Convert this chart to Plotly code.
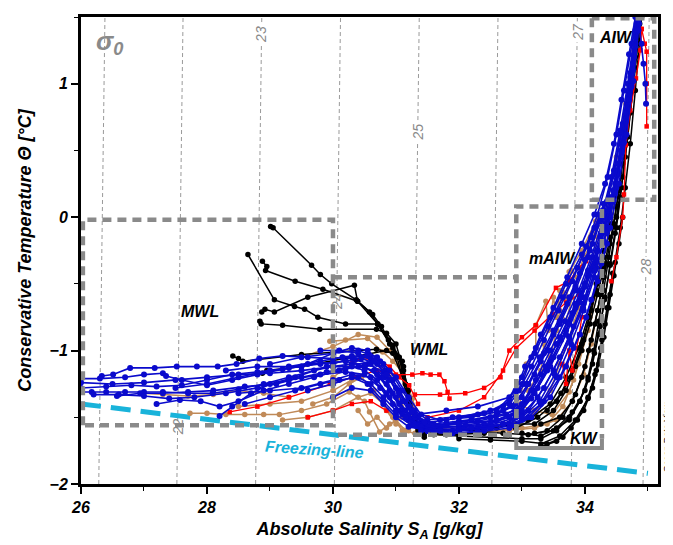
import plotly.graph_objects as go

# ---------------- data ----------------
# isopycnal levels (sigma0) and their salinity at T = 1.5 degC
sigma_levels = [21, 22, 23, 24, 25, 26, 27, 28]
sigma_S_top = [26.38, 27.62, 28.87, 30.12, 31.37, 32.62, 33.88, 35.02]
sigma_tilt = 0.028  # dS/dT along an isopycnal

freezing_S = [26.0, 35.0]
freezing_T = [-1.40, -1.92]

black_profiles = [
    [(29.01,-0.07),(29.05,-0.08),(29.66,-0.36),(29.80,-0.43),(29.98,-0.50),(30.37,-0.62),(30.63,-0.73),(30.77,-0.82),(30.94,-0.96),(31.10,-1.08),(31.21,-1.36),(31.32,-1.51),(31.42,-1.61),(31.8,-1.63),(32.4,-1.62)],
    [(28.65,-0.28),(29.07,-0.62),(29.39,-0.67),(29.55,-0.69),(29.76,-0.75),(30.20,-0.80),(30.71,-0.80),(30.9,-0.95),(31.05,-1.05),(31.15,-1.25),(31.25,-1.45),(31.35,-1.58),(31.6,-1.62)],
    [(28.88,-0.33),(28.95,-0.37),(28.93,-0.40),(29.40,-0.48),(29.84,-0.54),(30.39,-0.63),(30.71,-0.80),(30.95,-0.98),(31.12,-1.12),(31.2,-1.35),(31.3,-1.55),(31.45,-1.63)],
    [(28.87,-0.71),(28.92,-0.69),(29.07,-0.71),(29.6,-0.60),(30.34,-0.51),(30.39,-0.63),(30.58,-0.71),(30.71,-0.80),(30.88,-0.92),(31.02,-1.05),(31.15,-1.3),(31.28,-1.52),(31.4,-1.6)],
    [(28.84,-0.78),(28.86,-0.80),(29.20,-0.81),(29.79,-0.84),(30.69,-0.84),(30.85,-0.87),(31.0,-0.95),(31.12,-1.15),(31.22,-1.40),(31.35,-1.6)],
    [(28.41,-1.04),(28.5,-1.06),(28.57,-1.08),(29.5,-1.03),(30.69,-0.99),(30.95,-1.02),(31.15,-1.25),(31.3,-1.5),(31.45,-1.65)],
    [(28.88,-1.17),(28.95,-1.15),(29.5,-1.12),(30.2,-1.06),(30.85,-1.0),(31.05,-1.05),(31.2,-1.3),(31.3,-1.55)],
    [(31.3,-1.55),(31.6,-1.63),(32.0,-1.64),(32.5,-1.65),(33.0,-1.66),(33.3,-1.66),(33.55,-1.6),(33.75,-1.5),(33.92,-1.38),(34.05,-1.22),(34.15,-1.02),(34.24,-0.82),(34.32,-0.6),(34.4,-0.36),(34.48,-0.12),(34.56,0.15),(34.64,0.45),(34.72,0.78),(34.8,1.12),(34.87,1.45)],
    [(32.2,-1.6),(32.7,-1.62),(33.1,-1.63),(33.4,-1.6),(33.65,-1.5),(33.85,-1.33),(34.0,-1.12),(34.1,-0.92),(34.2,-0.7),(34.3,-0.45),(34.4,-0.2),(34.5,0.08),(34.6,0.4),(34.7,0.8),(34.8,1.2),(34.86,1.48)],
    [(32.8,-1.55),(33.2,-1.55),(33.5,-1.45),(33.7,-1.3),(33.85,-1.12),(33.98,-0.92),(34.1,-0.7),(34.2,-0.5),(34.3,-0.3),(34.42,-0.05),(34.52,0.25)],
    [(33.0,-1.62),(33.3,-1.64),(33.55,-1.58),(33.8,-1.46),(34.0,-1.3),(34.12,-1.1),(34.22,-0.88),(34.31,-0.62),(34.4,-0.35),(34.5,-0.08),(34.58,0.22)],
    [(31.5,-1.58),(32.0,-1.6),(32.6,-1.58),(33.1,-1.52),(33.45,-1.4),(33.7,-1.2),(33.9,-0.98),(34.05,-0.75),(34.18,-0.5),(34.3,-0.25)],
    [(33.3,-1.55),(33.6,-1.5),(33.8,-1.38),(33.95,-1.2),(34.06,-1.0),(34.16,-0.8),(34.25,-0.58),(34.34,-0.35)],
    [(33.3,-1.7),(33.6,-1.64),(33.85,-1.52),(34.05,-1.36),(34.18,-1.15),(34.27,-0.92),(34.35,-0.68),(34.44,-0.42)],
    [(34.5,0.0),(34.6,0.3),(34.68,0.6),(34.76,0.95),(34.83,1.3),(34.88,1.5)],
    [(32.0,-1.66),(32.5,-1.67),(33.0,-1.68),(33.4,-1.7),(33.65,-1.65),(33.88,-1.52),(34.05,-1.35),(34.16,-1.18),(34.25,-0.98),(34.32,-0.8),(34.4,-0.58),(34.48,-0.34),(34.56,-0.08),(34.64,0.22),(34.72,0.55),(34.8,0.95),(34.86,1.3),(34.9,1.5)],
    [(33.2,-1.62),(33.5,-1.6),(33.75,-1.52),(33.92,-1.38),(34.05,-1.2),(34.14,-1.0),(34.22,-0.78),(34.3,-0.55),(34.38,-0.3),(34.46,-0.05),(34.54,0.2)],
    [(33.3,-1.72),(33.55,-1.68),(33.78,-1.58),(33.98,-1.45),(34.12,-1.28),(34.22,-1.1),(34.3,-0.9),(34.38,-0.68),(34.46,-0.44),(34.54,-0.2),(34.6,0.0)],
    [(32.9,-1.58),(33.25,-1.5),(33.55,-1.38),(33.78,-1.2),(33.95,-1.0),(34.08,-0.8),(34.2,-0.58),(34.3,-0.38),(34.4,-0.15)],
    [(33.4,-1.45),(33.62,-1.32),(33.8,-1.15),(33.95,-0.95),(34.07,-0.75),(34.18,-0.55),(34.28,-0.35)],
]

blue_profiles = [
    [(26.0,-1.31),(26.17,-1.31),(26.4,-1.31),(26.7,-1.31),(27.0,-1.31),(27.3,-1.31),(27.7,-1.32),(28.09,-1.32),(28.5,-1.29),(28.9,-1.25),(29.3,-1.2),(29.7,-1.15),(30.0,-1.12),(30.3,-1.1),(30.55,-1.1),(30.8,-1.16),(31.0,-1.28),(31.2,-1.42),(31.4,-1.53),(31.6,-1.57),(32.0,-1.57),(32.4,-1.55),(32.8,-1.5),(33.05,-1.38),(33.3,-1.18),(33.55,-0.95),(33.8,-0.72),(34.0,-0.5),(34.2,-0.25),(34.38,0.02),(34.52,0.35),(34.65,0.72),(34.76,1.1),(34.85,1.48)],
    [(26.33,-1.19),(26.51,-1.18),(26.78,-1.13),(27.17,-1.13),(27.52,-1.12),(27.84,-1.12),(28.17,-1.12),(28.47,-1.10),(28.83,-1.06),(29.2,-1.04),(29.6,-1.05),(30.0,-1.06),(30.3,-1.04),(30.6,-1.06),(30.85,-1.15),(31.05,-1.3),(31.25,-1.45),(31.45,-1.55),(31.7,-1.58),(32.1,-1.56),(32.6,-1.52),(32.95,-1.45),(33.2,-1.3),(33.45,-1.08),(33.7,-0.85),(33.95,-0.6),(34.15,-0.35),(34.32,-0.08),(34.48,0.25),(34.62,0.62),(34.74,1.0),(34.83,1.4)],
    [(26.0,-1.21),(26.3,-1.21),(26.7,-1.2),(27.0,-1.18),(27.30,-1.17),(27.35,-1.19),(27.6,-1.22),(28.0,-1.26),(28.4,-1.22),(28.8,-1.18),(29.3,-1.13),(29.8,-1.1),(30.2,-1.08),(30.5,-1.12),(30.75,-1.2),(30.95,-1.32),(31.15,-1.45),(31.35,-1.55),(31.6,-1.6),(32.0,-1.59),(32.5,-1.56),(32.9,-1.5),(33.15,-1.36),(33.4,-1.15),(33.62,-0.92),(33.85,-0.68),(34.05,-0.44),(34.25,-0.15),(34.42,0.15),(34.58,0.5),(34.7,0.9),(34.8,1.3),(34.86,1.5)],
    [(26.57,-1.34),(26.94,-1.32),(27.3,-1.32),(27.7,-1.31),(28.1,-1.3),(28.6,-1.27),(29.1,-1.25),(29.5,-1.2),(29.9,-1.16),(30.2,-1.13),(30.5,-1.12),(30.7,-1.18),(30.9,-1.3),(31.1,-1.45),(31.3,-1.56),(31.5,-1.6),(31.9,-1.6),(32.3,-1.58),(32.7,-1.55),(33.0,-1.48),(33.25,-1.35),(33.5,-1.15),(33.75,-0.9),(33.98,-0.65),(34.18,-0.38),(34.35,-0.1),(34.5,0.22),(34.63,0.6),(34.75,1.02),(34.84,1.42)],
    [(27.2,-1.40),(27.57,-1.37),(27.9,-1.38),(28.2,-1.42),(28.5,-1.38),(28.9,-1.3),(29.3,-1.25),(29.7,-1.2),(30.1,-1.15),(30.4,-1.12),(30.65,-1.15),(30.85,-1.25),(31.05,-1.4),(31.25,-1.52),(31.45,-1.58),(31.8,-1.55),(32.2,-1.52),(32.6,-1.48),(32.9,-1.4),(33.1,-1.25),(33.3,-1.08),(33.5,-0.88),(33.72,-0.65),(33.92,-0.42),(34.12,-0.2),(34.3,0.05),(34.46,0.35),(34.6,0.7),(34.72,1.08),(34.82,1.45)],
    [(28.2,-1.49),(28.4,-1.42),(28.7,-1.32),(29.0,-1.25),(29.4,-1.2),(29.9,-1.12),(30.3,-1.05),(30.55,-1.03),(30.8,-1.1),(31.0,-1.2),(31.2,-1.35),(31.4,-1.48),(31.7,-1.52),(32.2,-1.5),(32.7,-1.45),(33.0,-1.35),(33.2,-1.18),(33.4,-1.0),(33.6,-0.8),(33.85,-0.55),(34.05,-0.3),(34.25,-0.02),(34.42,0.3),(34.56,0.65),(34.68,1.0),(34.8,1.4)],
    [(27.5,-1.28),(28.0,-1.25),(28.5,-1.2),(29.0,-1.15),(29.5,-1.12),(30.0,-1.02),(30.3,-0.98),(30.55,-1.0),(30.75,-1.08),(30.95,-1.22),(31.15,-1.38),(31.35,-1.5),(31.6,-1.55),(32.0,-1.53),(32.5,-1.5),(32.85,-1.42),(33.1,-1.25),(33.35,-1.02),(33.6,-0.78),(33.85,-0.52),(34.08,-0.25),(34.28,0.05)],
    [(28.5,-1.32),(29.0,-1.3),(29.5,-1.28),(30.0,-1.22),(30.3,-1.18),(30.6,-1.2),(30.85,-1.32),(31.05,-1.45),(31.3,-1.55),(31.6,-1.6),(32.0,-1.6),(32.4,-1.58),(32.8,-1.55),(33.1,-1.45),(33.35,-1.28),(33.6,-1.05),(33.82,-0.82),(34.0,-0.6),(34.18,-0.32),(34.36,-0.02),(34.52,0.32)],
    [(29.0,-1.1),(29.5,-1.05),(30.0,-1.02),(30.4,-1.0),(30.7,-1.05),(30.9,-1.15),(31.1,-1.3),(31.3,-1.45),(31.5,-1.52),(31.9,-1.5),(32.4,-1.47),(32.8,-1.4),(33.05,-1.25),(33.28,-1.05),(33.5,-0.85),(33.75,-0.6),(34.0,-0.32),(34.22,-0.05)],
    [(26.0,-1.28),(26.4,-1.27),(26.8,-1.26),(27.2,-1.27),(27.6,-1.26),(28.0,-1.22),(28.4,-1.18),(28.8,-1.16),(29.2,-1.14),(29.6,-1.1),(30.0,-1.09),(30.35,-1.07),(30.6,-1.1),(30.82,-1.2),(31.0,-1.35),(31.2,-1.48),(31.45,-1.56),(31.8,-1.56),(32.3,-1.53),(32.75,-1.48),(33.0,-1.4),(33.22,-1.22),(33.45,-1.0),(33.68,-0.78),(33.9,-0.55),(34.1,-0.3),(34.3,0.0),(34.46,0.32),(34.6,0.68),(34.72,1.05),(34.82,1.42)],
    [(28.3,-1.15),(28.8,-1.12),(29.3,-1.12),(29.8,-1.08),(30.15,-1.05),(30.45,-1.06),(30.7,-1.1),(30.9,-1.22),(31.1,-1.38),(31.3,-1.5),(31.55,-1.56),(32.0,-1.54),(32.5,-1.5),(32.9,-1.45),(33.15,-1.3),(33.38,-1.12),(33.6,-0.9),(33.85,-0.65),(34.05,-0.4),(34.25,-0.12),(34.4,0.15)],
    [(29.6,-1.3),(30.0,-1.25),(30.3,-1.2),(30.55,-1.25),(30.8,-1.38),(31.0,-1.48),(31.25,-1.56),(31.5,-1.6),(31.9,-1.62),(32.4,-1.6),(32.85,-1.56),(33.1,-1.5),(33.35,-1.38),(33.6,-1.2),(33.82,-0.98),(34.02,-0.75),(34.2,-0.48),(34.35,-0.2)],
    [(31.3,-1.48),(31.8,-1.45),(32.3,-1.42),(32.8,-1.35),(33.0,-1.2),(33.2,-1.02),(33.42,-0.82),(33.65,-0.6),(33.88,-0.38),(34.1,-0.15),(34.3,0.1)],
    [(32.6,-1.45),(32.9,-1.3),(33.05,-1.12),(33.22,-0.98),(33.45,-0.75),(33.7,-0.5),(33.95,-0.28),(34.15,-0.08),(34.35,0.12)],
    [(34.86,1.45),(34.9,1.3),(34.93,1.15),(34.96,1.0),(34.97,0.85)],
    [(34.4,0.0),(34.5,0.25),(34.6,0.55),(34.7,0.9),(34.78,1.2),(34.84,1.48)],
    [(26.0,-1.24),(26.5,-1.25),(27.0,-1.24),(27.5,-1.22),(28.0,-1.2),(28.5,-1.18),(29.0,-1.17),(29.5,-1.15),(30.0,-1.12),(30.3,-1.12),(30.5,-1.15),(30.7,-1.22),(30.9,-1.35),(31.1,-1.48),(31.3,-1.56),(31.6,-1.58),(32.0,-1.58),(32.5,-1.55),(32.9,-1.48),(33.2,-1.32),(33.45,-1.12),(33.7,-0.88),(33.92,-0.64),(34.12,-0.38),(34.3,-0.1),(34.45,0.2),(34.58,0.55),(34.7,0.95),(34.8,1.35)],
    [(28.6,-1.4),(29.0,-1.35),(29.4,-1.3),(29.8,-1.25),(30.1,-1.22),(30.4,-1.2),(30.6,-1.25),(30.8,-1.35),(31.0,-1.45),(31.2,-1.52),(31.5,-1.57),(32.0,-1.55),(32.6,-1.52),(33.0,-1.45),(33.25,-1.28),(33.5,-1.05),(33.75,-0.8),(34.0,-0.52),(34.2,-0.25),(34.38,0.05),(34.52,0.4),(34.65,0.78),(34.76,1.15),(34.85,1.5)],
    [(29.8,-1.0),(30.1,-1.0),(30.4,-1.02),(30.65,-1.08),(30.85,-1.18),(31.05,-1.32),(31.25,-1.46),(31.45,-1.54),(31.8,-1.52),(32.3,-1.48),(32.7,-1.42),(32.95,-1.3),(33.15,-1.12),(33.35,-0.92),(33.58,-0.7),(33.8,-0.48),(34.02,-0.22),(34.2,0.02),(34.36,0.3),(34.5,0.62),(34.62,0.95),(34.74,1.3),(34.82,1.5)],
    [(30.0,-1.35),(30.3,-1.28),(30.6,-1.3),(30.8,-1.4),(31.0,-1.5),(31.2,-1.57),(31.5,-1.6),(32.0,-1.6),(32.5,-1.58),(33.0,-1.52),(33.3,-1.4),(33.55,-1.2),(33.78,-0.95),(33.98,-0.7),(34.15,-0.45),(34.3,-0.18),(34.45,0.12),(34.58,0.48),(34.7,0.88),(34.8,1.28),(34.86,1.5)],
    [(26.2,-1.33),(26.6,-1.33),(27.0,-1.34),(27.4,-1.36),(27.8,-1.35),(28.3,-1.32),(28.8,-1.28),(29.3,-1.22),(29.8,-1.18),(30.2,-1.16),(30.5,-1.18),(30.75,-1.28),(30.95,-1.4),(31.15,-1.5),(31.4,-1.57),(31.7,-1.6),(32.2,-1.58),(32.7,-1.55),(33.0,-1.5),(33.28,-1.38),(33.52,-1.18),(33.76,-0.92),(33.97,-0.68),(34.16,-0.4),(34.34,-0.12),(34.48,0.18),(34.62,0.56),(34.74,0.98),(34.83,1.4)],
    [(32.0,-1.5),(32.5,-1.45),(32.8,-1.38),(33.0,-1.25),(33.15,-1.05),(33.3,-0.88),(33.5,-0.68),(33.72,-0.45),(33.95,-0.2),(34.15,0.02),(34.32,0.25),(34.46,0.55),(34.58,0.88),(34.7,1.22),(34.8,1.5)],
    [(31.4,-1.6),(31.8,-1.62),(32.3,-1.61),(32.8,-1.58),(33.15,-1.5),(33.45,-1.35),(33.7,-1.12),(33.92,-0.88),(34.1,-0.62),(34.26,-0.35),(34.4,-0.08),(34.54,0.25),(34.66,0.62),(34.77,1.02),(34.85,1.4)],
]

brown_profiles = [
    [(29.95,-0.93),(30.2,-0.92),(30.55,-0.91),(30.79,-1.01),(30.95,-1.08),(31.10,-1.16),(31.26,-1.36),(31.35,-1.5),(31.5,-1.58),(32.0,-1.58),(32.5,-1.57),(32.9,-1.55),(33.2,-1.48),(33.45,-1.3),(33.6,-1.1),(33.75,-0.9),(33.9,-0.68),(34.05,-0.42),(34.2,-0.15),(34.35,0.1),(34.5,0.45),(34.65,0.85),(34.78,1.25),(34.88,1.5)],
    [(27.73,-1.47),(28.0,-1.47),(28.3,-1.48),(28.6,-1.48),(28.9,-1.48),(29.15,-1.48),(29.5,-1.45),(29.9,-1.4),(30.26,-1.31),(30.5,-1.38),(30.58,-1.46),(30.74,-1.61),(30.9,-1.55),(31.1,-1.5),(31.3,-1.56),(31.6,-1.6)],
    [(29.68,-1.40),(30.0,-1.35),(30.26,-1.25),(30.45,-1.2),(30.65,-1.3),(30.85,-1.45),(31.0,-1.55),(31.2,-1.6)],
    [(26.98,-1.32),(27.3,-1.33),(27.7,-1.34),(28.1,-1.33),(28.5,-1.3),(28.9,-1.32),(29.3,-1.35)],
    [(32.96,-1.41),(33.07,-1.10),(33.22,-0.98),(33.22,-0.81),(33.38,-0.63),(33.42,-0.85),(33.5,-0.6),(33.55,-0.75),(33.64,-0.56),(33.75,-0.41),(33.95,-0.25),(34.17,-0.03),(34.22,0.02)],
    [(32.96,-1.41),(33.2,-1.45),(33.48,-1.48),(33.75,-1.31),(33.9,-1.1),(34.05,-0.85),(34.15,-0.6),(34.25,-0.35),(34.35,-0.1)],
    [(29.5,-1.05),(30.0,-0.97),(30.4,-0.88),(30.7,-0.9),(30.9,-1.0),(31.05,-1.1),(31.2,-1.3),(31.3,-1.45)],
    [(29.2,-1.52),(29.6,-1.5),(30.0,-1.45),(30.4,-1.35),(30.6,-1.32),(30.8,-1.4),(30.95,-1.5),(31.1,-1.6),(31.3,-1.62)],
    [(32.5,-1.6),(33.0,-1.58),(33.4,-1.55),(33.65,-1.42),(33.82,-1.22),(33.95,-1.0),(34.08,-0.75),(34.2,-0.5)],
    [(33.1,-1.3),(33.3,-1.15),(33.35,-0.95),(33.45,-1.05),(33.55,-0.85),(33.6,-0.7),(33.7,-0.78),(33.8,-0.6),(33.9,-0.45)],
    [(30.0,-1.2),(30.3,-1.1),(30.5,-1.05),(30.7,-1.08),(30.9,-1.2),(31.05,-1.35),(31.2,-1.5),(31.35,-1.6),(31.7,-1.62),(32.3,-1.62),(32.8,-1.6),(33.2,-1.58),(33.55,-1.52),(33.8,-1.38),(33.98,-1.18),(34.1,-0.95),(34.2,-0.7),(34.3,-0.45)],
    [(30.4,-1.45),(30.55,-1.55),(30.7,-1.5),(30.85,-1.58),(31.0,-1.52),(31.15,-1.6)],
    [(28.5,-1.42),(29.0,-1.4),(29.5,-1.38),(30.0,-1.3),(30.3,-1.22)],
    [(33.55,-0.75),(33.6,-0.55),(33.7,-0.62),(33.78,-0.4),(33.88,-0.45),(33.98,-0.3),(34.1,-0.2),(34.22,0.0)],
]

red_profiles = [
    [(30.3,-1.2),(30.7,-1.15),(31.0,-1.18),(31.26,-1.18),(31.42,-1.17),(31.55,-1.18),(31.69,-1.18),(31.77,-1.23),(31.82,-1.31),(31.85,-1.36)],
    [(31.3,-1.33),(31.7,-1.33),(32.1,-1.32),(32.4,-1.28),(32.66,-1.2),(32.8,-1.0),(33.0,-0.9),(33.22,-0.81),(33.54,-0.53),(33.75,-0.48),(33.9,-0.38),(34.02,-0.33)],
    [(31.5,-1.5),(32.0,-1.45),(32.4,-1.35),(32.7,-1.15),(32.91,-0.98),(33.2,-0.85),(33.48,-0.73),(33.7,-0.64),(33.91,-0.58)],
    [(28.36,-1.46),(28.8,-1.42),(29.3,-1.35),(29.95,-1.25),(30.3,-1.2)],
    [(29.6,-1.5),(30.0,-1.45),(30.3,-1.4),(30.6,-1.38),(30.85,-1.45)],
    [(33.64,-1.10),(33.70,-1.25),(33.75,-1.0),(33.8,-1.15),(33.91,-0.88),(33.95,-0.75)],
    [(34.42,-0.48),(34.5,-0.3),(34.6,0.0),(34.62,0.17),(34.65,0.54),(34.72,0.8),(34.81,1.04),(34.88,1.25),(34.9,1.41)],
    [(34.9,1.41),(34.95,1.3),(34.98,1.24),(34.98,1.0),(34.98,0.68)],
    [(30.31,-1.07),(30.69,-1.06),(30.9,-1.12),(31.05,-1.2),(31.21,-1.26),(31.35,-1.4)],
]

# water-mass boxes (S, T corners)
box_MWL = [(26.03, -1.56), (26.03, -0.02), (30.0, -0.02), (30.0, -1.56), (26.03, -1.56)]
box_WML = [(30.0, -0.45), (32.91, -0.45), (32.91, -1.63), (30.0, -1.63)]
box_mAIW = [(32.91, -1.62), (32.91, 0.08), (34.27, 0.08), (34.27, -1.66)]
box_KW_bottom = [(32.91, -1.66), (32.91, -1.73), (34.27, -1.73), (34.27, -1.66)]
box_AIW = [(34.11, 1.49), (34.11, 0.13), (35.10, 0.13), (35.10, 1.49), (34.11, 1.49)]

region_labels = [("MWL", 27.89, -0.71), ("WML", 31.53, -0.99), ("mAIW", 33.48, -0.31),
                 ("KW", 33.99, -1.66), ("AIW", 34.49, 1.35)]
sigma_label_T = {22: -1.57, 23: 1.37, 24: -0.63, 25: 0.64, 27: 1.39, 28: -0.37}

# ---------------- figure ----------------
GRAY = "#8a8a8a"
FONT = "Liberation Sans, Arial, sans-serif"
fig = go.Figure()

for lev, s0 in zip(sigma_levels, sigma_S_top):
    T = [-2.0, 1.5]
    S = [s0 + sigma_tilt * (t - 1.5) for t in T]
    fig.add_trace(go.Scatter(x=S, y=T, mode="lines",
                             line=dict(color="#9a9a9a", width=1, dash="4px,3px"),
                             hoverinfo="skip"))

fig.add_trace(go.Scatter(x=freezing_S, y=freezing_T, mode="lines",
                         line=dict(color="#19B3DA", width=5, dash="20px,10px"),
                         hoverinfo="skip"))

def add_profiles(profiles, color, msize, lw, symbol="circle"):
    for p in profiles:
        fig.add_trace(go.Scatter(x=[a for a, b in p], y=[b for a, b in p],
                                 mode="lines+markers",
                                 line=dict(color=color, width=lw),
                                 marker=dict(color=color, size=msize, symbol=symbol)))

add_profiles(brown_profiles, "#C08A58", 5.5, 1.5)
add_profiles(black_profiles, "#000000", 5.5, 1.5)
add_profiles(red_profiles, "#FF0000", 4.5, 1.3, "square")
add_profiles(blue_profiles, "#0A0ACC", 6, 1.6)

for box in [box_MWL, box_WML, box_mAIW, box_AIW]:
    fig.add_trace(go.Scatter(x=[a for a, b in box], y=[b for a, b in box], mode="lines",
                             line=dict(color=GRAY, width=4.5, dash="9px,6px"),
                             hoverinfo="skip"))
fig.add_trace(go.Scatter(x=[a for a, b in box_KW_bottom], y=[b for a, b in box_KW_bottom],
                         mode="lines", line=dict(color=GRAY, width=4), hoverinfo="skip"))

annotations = []
for txt, s, t in region_labels:
    annotations.append(dict(x=s, y=t, text=txt, showarrow=False,
                            font=dict(family=FONT, size=16, color="black", weight="bold", style="italic")))
annotations.append(dict(x=29.71, y=-1.74, text="Freezing-line", showarrow=False, textangle=4,
                        font=dict(family=FONT, size=16, color="#19B3DA", weight="bold", style="italic")))
for lev, s0 in zip(sigma_levels, sigma_S_top):
    t = sigma_label_T.get(lev)
    if t is None:
        continue
    s = s0 + sigma_tilt * (t - 1.5)
    ann = dict(x=s, y=t, text=str(lev), showarrow=False, textangle=-90,
               font=dict(family=FONT, size=14, color="#8a8a8a", style="italic"))
    if lev not in (22, 24):
        ann["bgcolor"] = "white"
    annotations.append(ann)
annotations.append(dict(x=26.45, y=1.31, text="σ<sub>0</sub>", showarrow=False,
                        font=dict(family=FONT, size=26, color="#8a8a8a", weight="bold", style="italic")))
annotations.append(dict(xref="paper", yref="paper", x=1.0, xanchor="center", xshift=9, y=0.1,
                        yanchor="middle", text="Ocean Data View",
                        showarrow=False, textangle=-90,
                        font=dict(family=FONT, size=9, color="black")))

axis_font = dict(family=FONT, size=16, color="black", weight="bold", style="italic")
fig.update_layout(
    width=665, height=537,
    margin=dict(l=73, r=15, t=6, b=61),
    plot_bgcolor="white", paper_bgcolor="white",
    showlegend=False,
    annotations=annotations,
    xaxis=dict(range=[26, 35.16], tickvals=[26, 28, 30, 32, 34], ticks="outside", ticklen=7,
               tickwidth=2, tickcolor="black",
               minor=dict(tickvals=[27, 29, 31, 33, 35], ticks="outside", ticklen=4, tickcolor="black", tickwidth=1),
               showgrid=False, zeroline=False, showline=True, mirror=True, linecolor="black", linewidth=3,
               tickfont=axis_font,
               title=dict(text="Absolute Salinity S<sub>A</sub> [g/kg]", standoff=8,
                          font=dict(family=FONT, size=18, color="black", weight="bold", style="italic"))),
    yaxis=dict(range=[-2, 1.5], tickvals=[-2, -1, 0, 1], ticks="outside", ticklen=7,
               tickwidth=2, tickcolor="black",
               minor=dict(tickvals=[-1.5, -0.5, 0.5, 1.5], ticks="outside", ticklen=4, tickcolor="black", tickwidth=1),
               showgrid=False, zeroline=False, showline=True, mirror=True, linecolor="black", linewidth=3,
               tickfont=axis_font,
               title=dict(text="Conservative Temperature Θ [°C]", standoff=14,
                          font=dict(family=FONT, size=18, color="black", weight="bold", style="italic"))),
)

fig.write_html("out.html")
